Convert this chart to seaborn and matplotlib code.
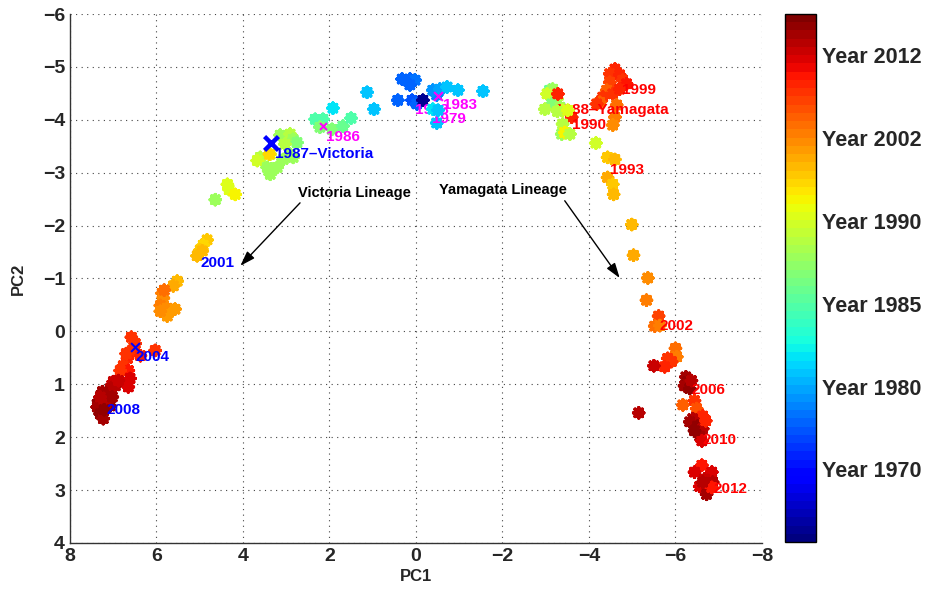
import numpy as np
import pandas as pd
import matplotlib
matplotlib.use("Agg")
import matplotlib.pyplot as plt
import seaborn as sns
from matplotlib.ticker import MultipleLocator, FixedLocator
from matplotlib.colors import Normalize
import matplotlib.cm as cm

# ---------------- data ----------------
pc1 = [0.32, 0.14, 0.02, 0.14, 0.42, 0.09, -0.02, -0.16, -0.48, -0.39,
       -0.55, -0.72, -0.97, -1.55, -0.48, 1.13, 0.97, 1.92,
       2.33, 2.15, 2.22, 1.94, 1.69, 1.50,
       3.14, 2.91, 2.84, 2.75, 3.03, 2.91, 3.07, 2.84, 3.37, 3.60,
       3.67, 3.44, 3.21, 3.37,
       4.36, 4.32, 4.18, 4.64,
       4.83, 4.92, 4.99, 5.06, 4.94,
       5.52, 5.61, 5.87, 5.84, 5.91, 5.75, 5.57, 5.75, 5.91, 5.82,
       6.58, 6.56, 6.67, 6.77, 6.65, 6.84, 6.37, 6.03, 6.61, 6.65, 6.49, 6.70,
       7.00, 7.07, 7.14, 7.25, 7.34, 7.37, 7.30, 7.23, 7.07, 6.95, 7.18, 7.02,
       7.30, 6.88, 7.21,
       -3.09, -3.16, -3.03, -3.26, -3.14, -2.98, -3.33, -3.39, -3.60,
       -3.39, -3.37, -3.44, -3.56, -3.28, -4.16,
       -4.60, -4.48, -4.71, -4.78, -4.87, -4.48, -4.41, -4.55, -4.32, -4.25,
       -4.64, -4.60, -4.55, -4.71, -4.18,
       -4.43, -4.60, -4.43, -4.55, -4.57, -4.99, -5.03, -5.36, -5.33, -5.61,
       -5.52, -5.64, -6.00, -6.03, -5.82, -5.91, -5.75, -5.50,
       -6.24, -6.28, -6.21, -6.33, -6.37, -6.17, -6.44, -5.15,
       -6.49, -6.63, -6.40, -6.33, -6.51, -6.63, -6.56, -6.61, -6.44, -6.70,
       -6.61, -6.44, -6.84, -6.67, -6.56, -6.86, -6.72, -6.84, -6.63]
pc2 = [-4.77, -4.77, -4.75, -4.66, -4.37, -4.37, -4.30, -4.37, -4.47, -4.56,
       -4.58, -4.62, -4.56, -4.54, -3.94, -4.52, -4.20, -4.22,
       -4.01, -4.01, -3.86, -3.82, -3.88, -4.03,
       -3.71, -3.73, -3.63, -3.57, -3.54, -3.35, -3.25, -3.29, -3.35, -3.29,
       -3.23, -3.10, -3.10, -2.97,
       -2.78, -2.68, -2.59, -2.49,
       -1.73, -1.63, -1.54, -1.43, -1.52,
       -0.95, -0.86, -0.72, -0.63, -0.49, -0.44, -0.42, -0.29, -0.38, -0.78,
       0.11, 0.36, 0.51, 0.65, 0.74, 0.74, 0.46, 0.36, 0.89, 1.05, 0.23, 0.42,
       0.95, 1.08, 1.22, 1.14, 1.31, 1.43, 1.56, 1.65, 1.41, 1.03, 1.37, 1.24,
       1.24, 0.93, 1.48,
       -4.56, -4.58, -4.49, -4.39, -4.30, -4.20, -4.24, -4.18, -4.05,
       -3.92, -3.73, -3.76, -3.73, -4.49, -3.56,
       -4.96, -4.87, -4.85, -4.75, -4.68, -4.71, -4.56, -4.49, -4.43, -4.33,
       -4.28, -4.05, -3.90, -4.58, -4.30,
       -3.29, -3.25, -2.91, -2.78, -2.59, -2.02, -1.44, -1.01, -0.59, -0.29,
       -0.10, -0.11, 0.32, 0.48, 0.51, 0.57, 0.67, 0.65,
       0.86, 0.95, 1.03, 1.08, 0.93, 1.39, 1.31, 1.54,
       1.46, 1.60, 1.65, 1.71, 1.79, 1.84, 1.98, 2.07, 1.88, 1.69,
       2.53, 2.66, 2.66, 2.79, 2.93, 2.85, 3.08, 2.95, 2.85]
year = [1976, 1976, 1977, 1976, 1976, 1975, 1976, 1963, 1978, 1979,
        1980, 1981, 1981, 1981, 1981, 1981, 1981, 1982,
        1985, 1985, 1987, 1987, 1986, 1985,
        1988, 1989, 1988, 1987, 1989, 1988, 1988, 1988, 1990, 1989,
        1990, 1988, 1988, 1988,
        1991, 1991, 1993, 1988,
        1997, 1996, 1997, 1998, 1998,
        1998, 1999, 2003, 2002, 2003, 2001, 2000, 2000, 2002, 2004,
        2008, 2008, 2009, 2008, 2010, 2008, 2009, 2008, 2011, 2011, 2008, 2008,
        2012, 2013, 2014, 2014, 2015, 2014, 2015, 2014, 2015, 2013, 2013, 2014,
        2013, 2012, 2015,
        1986, 1988, 1990, 1989, 1987, 1989, 1988, 1990, 2009,
        1989, 1988, 1993, 1989, 2009, 1990,
        2009, 2008, 2009, 2008, 2010, 2007, 2005, 2008, 2008, 2005,
        2004, 2003, 2001, 2009, 2008,
        1997, 1998, 1999, 1997, 1998, 1998, 1999, 2002, 2003, 2007,
        2004, 2003, 2004, 2003, 2008, 2008, 2009, 2012,
        2014, 2015, 2014, 2015, 2013, 2005, 2008, 2013,
        2006, 2009, 2013, 2014, 2015, 2013, 2014, 2011, 2015, 2009,
        2010, 2011, 2011, 2012, 2011, 2013, 2014, 2010, 2013]

# strains drawn last (on top of the labels)
front_pc1 = [-0.39, -0.51, -3.27, -3.51, 3.39]
front_pc2 = [-4.20, -4.18, -4.16, -4.18, -3.35]
front_year = [1982, 1981, 1989, 1991, 1996]

# colour bar: labelled years and their place on the bar
cbar_years = [1970, 1980, 1985, 1990, 2002, 2012]
cbar_pos = [0.138, 0.294, 0.451, 0.608, 0.765, 0.922]
anchor_years = [1961] + cbar_years + [2017]
anchor_pos = [0.0] + cbar_pos + [1.0]

# strain labels
lab_text = ["1973", "1983", "1979", "1986", "1987\u2013Victoria", "2001", "2004", "2008",
            "1988\u2013Yamagata", "1990", "1993", "1999", "2002", "2006", "2010", "2012"]
lab_x = [0.02, -0.62, -0.37, 2.08, 3.26, 4.99, 6.49, 7.16,
         -3.21, -3.60, -4.48, -4.76, -5.64, -6.37, -6.63, -6.88]
lab_y = [-4.18, -4.28, -4.01, -3.67, -3.35, -1.29, 0.48, 1.48,
         -4.18, -3.90, -3.06, -4.56, -0.10, 1.10, 2.05, 2.98]
lab_color = ["#ff00ff"] * 4 + ["#0000ff"] * 4 + ["#ff0000"] * 8

# reference strain markers
ref_x = [-0.52, 2.15, 3.35, 6.49]
ref_y = [-4.45, -3.88, -3.57, 0.29]
ref_color = ["#ff00ff", "#ff00ff", "#0000ff", "#0000ff"]
ref_size = [40, 25, 100, 40]

# lineage annotations
lin_text = ["Victoria Lineage", "Yamagata Lineage"]
lin_text_x = [1.43, -2.01]
lin_text_y = [-2.62, -2.68]
lin_tail_x = [2.68, -3.44]
lin_tail_y = [-2.43, -2.47]
lin_head_x = [4.06, -4.71]
lin_head_y = [-1.24, -1.01]

# ---------------- figure ----------------
sns.set_style("white")
plt.rcParams['font.family'] = ['Liberation Sans', 'DejaVu Sans']
plt.rcParams['font.weight'] = 'bold'

fig = plt.figure(figsize=(9.29, 5.94), dpi=100)
ax = fig.add_axes([0.0753, 0.0859, 0.7449, 0.8905])
cax = fig.add_axes([0.845, 0.0875, 0.0334, 0.889])

jet = plt.get_cmap('jet', 64)
df = pd.DataFrame({"pc1": pc1, "pc2": pc2,
                   "cval": np.interp(year, anchor_years, anchor_pos)})
df_front = pd.DataFrame({"pc1": front_pc1, "pc2": front_pc2,
                         "cval": np.interp(front_year, anchor_years, anchor_pos)})

mk = dict(palette=jet, hue_norm=(0, 1), marker=(8, 2, 0), s=52,
          linewidth=2.6, legend=False, ax=ax)
sns.scatterplot(data=df, x="pc1", y="pc2", hue="cval", zorder=3, **mk)

for t, x, y, c in zip(lab_text, lab_x, lab_y, lab_color):
    ax.text(x, y, t, color=c, fontsize=11, fontweight='bold',
            ha='left', va='center', zorder=4)

sns.scatterplot(data=df_front, x="pc1", y="pc2", hue="cval", zorder=5, **mk)

for rx, ry, rc, rs in zip(ref_x, ref_y, ref_color, ref_size):
    ax.scatter([rx], [ry], marker='x', s=rs, color=rc,
               linewidths=3.2 if rs > 60 else 1.5, zorder=6)

for t, tx, ty, x0, y0, x1, y1 in zip(lin_text, lin_text_x, lin_text_y,
                                     lin_tail_x, lin_tail_y, lin_head_x, lin_head_y):
    ax.text(tx, ty, t, fontsize=10.5, fontweight='bold', ha='center',
            va='center', color='black', zorder=6)
    ax.annotate("", xy=(x1, y1), xytext=(x0, y0),
                arrowprops=dict(arrowstyle="-|>,head_length=0.9,head_width=0.3",
                                color='black', lw=1.0, shrinkA=0, shrinkB=0),
                zorder=6)

ax.set_xlim(8, -8)
ax.set_ylim(4, -6)
ax.xaxis.set_major_locator(FixedLocator(np.arange(-8, 9, 2)))
ax.yaxis.set_major_locator(FixedLocator(np.arange(-6, 5, 1)))
ax.xaxis.set_minor_locator(MultipleLocator(0.2))
ax.yaxis.set_minor_locator(MultipleLocator(0.2))
ax.grid(True, which='major', linestyle=(0, (1, 4)), color='#444444', linewidth=0.8)
ax.tick_params(which='both', direction='in', top=False, right=False,
               labelsize=14, width=0.8, color='#333333')
ax.tick_params(which='major', length=5)
ax.tick_params(which='minor', length=2.5)
for lbl in ax.get_xticklabels() + ax.get_yticklabels():
    lbl.set_fontweight('bold')
for side in ['top', 'right']:
    ax.spines[side].set_visible(False)
for side in ['left', 'bottom']:
    ax.spines[side].set_color('#333333')
    ax.spines[side].set_linewidth(1.0)
ax.set_xlabel("PC1", fontsize=12, fontweight='bold', labelpad=3)
ax.set_ylabel("PC2", fontsize=12, fontweight='bold', labelpad=12)

# colour bar
sm = cm.ScalarMappable(norm=Normalize(0, 1), cmap=jet)
cb = fig.colorbar(sm, cax=cax)
cb.set_ticks(cbar_pos)
cb.set_ticklabels(["Year %d" % y for y in cbar_years])
cb.outline.set_linewidth(1.0)
cb.outline.set_edgecolor('black')
cax.tick_params(direction='in', length=5, width=1.0, labelsize=15.5,
                left=True, right=True, pad=4)
for lbl in cax.get_yticklabels():
    lbl.set_fontweight('bold')

fig.savefig("out.png", dpi=100)
